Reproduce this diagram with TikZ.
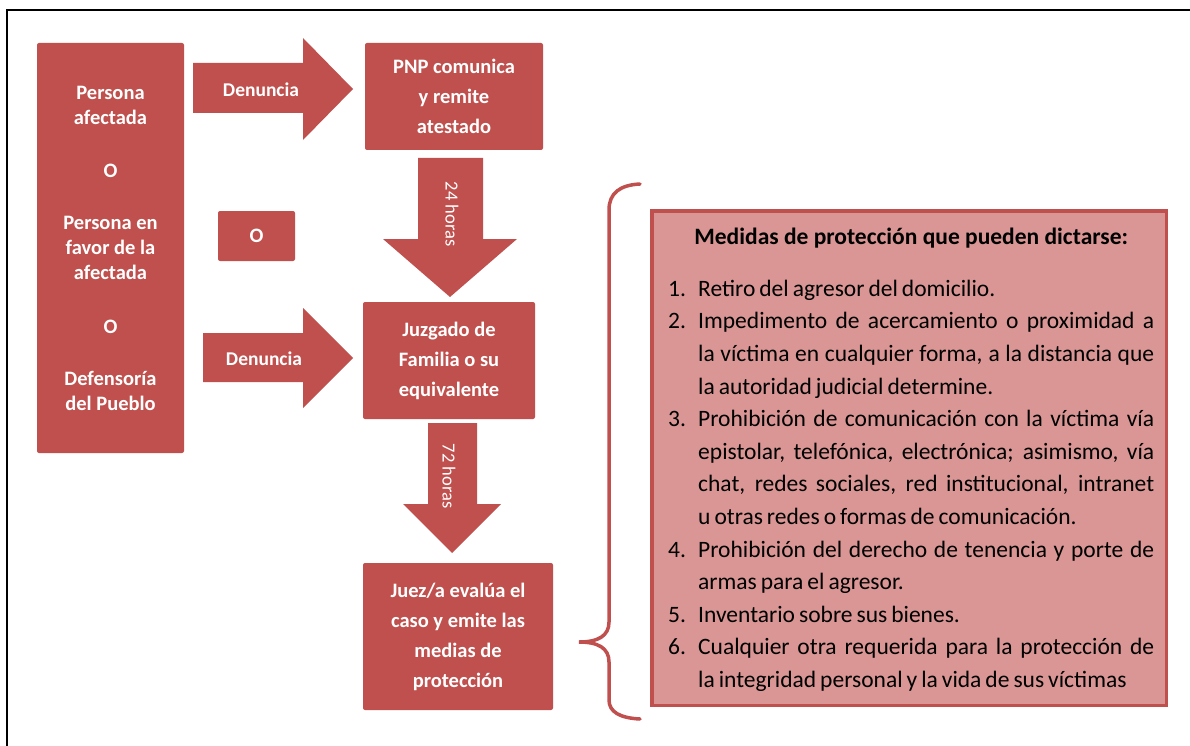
\documentclass[tikz,border=0pt]{standalone}
\usepackage{fontspec}
\setmainfont{Carlito}
\usetikzlibrary{shapes,arrows}
\definecolor{rojo}{HTML}{C0504D}
\definecolor{rosa}{HTML}{D99694}
\tikzstyle{caja} = [rectangle, fill=rojo, text=white, align=center,
    rounded corners=2pt, inner sep=0pt, font=\fontsize{20.5}{30}\selectfont\bfseries]
\tikzstyle{flecha} = [fill=rojo]
\tikzstyle{etiq} = [text=white, font=\fontsize{19.5}{23}\selectfont\bfseries]
\tikzstyle{horas} = [text=white, rotate=-90, font=\fontsize{18.5}{22}\selectfont]
\tikzstyle{llave} = [draw=rojo, line width=3.5pt, line cap=round]

\begin{document}
\begin{tikzpicture}[x=1pt, y=-1pt]
        \useasboundingbox (0,0) rectangle (1190,746);
        % Marco
        \draw[line width=2pt] (7,746) -- (7,10) -- (1190,10);

        % Place nodes
        \path (110.5,248) node (afect) [caja, minimum width=147, minimum height=410,
            font=\fontsize{20.5}{25}\selectfont\bfseries]
            {Persona\\afectada\\[28pt]O\\[27pt]Persona en\\favor de la\\afectada\\[29pt]O\\[27pt]Defensoría\\del Pueblo};
        \path (afect.center)+(343.5,-151.5) node (pnp) [caja, minimum width=178, minimum height=107] {PNP comunica\\y remite\\atestado};
        \path (afect.center)+(146,-12) node (obox) [caja, minimum width=77, minimum height=50] {O};
        \path (pnp.center)+(-5,264) node (juzg) [caja, minimum width=172, minimum height=117] {Juzgado de\\Familia o su\\equivalente};
        \path (juzg.center)+(9,276) node (juez) [caja, minimum width=190, minimum height=147] {Juez/a evalúa el\\caso y emite las\\medias de\\protección};

        %Denuncia
        \fill[flecha] (193,63) -- (303,63) -- (303,38) -- (353,89) -- (303,140) -- (303,113) -- (193,113) -- cycle;
        \path (261,90) node (den1) [etiq] {Denuncia};
        \fill[flecha] (203,333) -- (303,333) -- (303,308) -- (353,358) -- (303,408) -- (303,382) -- (203,382) -- cycle;
        \path (264,359) node (den2) [etiq] {Denuncia};

        %Plazos
        \fill[flecha] (418,158) -- (483,158) -- (483,239) -- (517,239) -- (450,297) -- (383,239) -- (418,239) -- cycle;
        \path (452,214) node (h24) [horas] {24 horas};
        \fill[flecha] (428,423) -- (477,423) -- (477,504) -- (501,504) -- (452,553) -- (403,504) -- (428,504) -- cycle;
        \path (449,476) node (h72) [horas] {72 horas};

        %Medidas
        \path (909,458) node (medidas) [rectangle, draw=rojo, line width=3.5pt, fill=rosa,
            minimum width=514.5, minimum height=494.5] {};
        \path (668,228) node (listado) [anchor=north west, text width=486, inner sep=0pt, align=justify,
            font=\fontsize{23.5}{32.6}\selectfont] {%
            {\centering\bfseries Medidas de protección que pueden dictarse:\par}
            \vspace{19pt}
            \spaceskip=.17em plus .2em minus .06em
            \begin{list}{\arabic{enumi}.\hfill}{\usecounter{enumi}\setlength{\leftmargin}{30pt}%
                \setlength{\labelwidth}{22pt}\setlength{\labelsep}{8pt}\setlength{\itemsep}{0pt}%
                \setlength{\parsep}{0pt}\setlength{\topsep}{0pt}\setlength{\partopsep}{0pt}}
            \item Retiro del agresor del domicilio.
            \item Impedimento de acercamiento o proximidad a\linebreak la víctima en cualquier forma, a la distancia que\linebreak la autoridad judicial determine.
            \item Prohibición de comunicación con la víctima vía\linebreak epistolar, telefónica, electrónica; asimismo, vía\linebreak chat, redes sociales, red institucional, intranet\linebreak u otras redes o formas de comunicación.
            \item Prohibición del derecho de tenencia y porte de\linebreak armas para el agresor.
            \item Inventario sobre sus bienes.
            \item Cualquier otra requerida para la protección de\linebreak la integridad personal y la vida de sus víctimas
            \end{list}};

        %Llave
        \draw[llave] (640,184) .. controls (620,185) and (609,193) .. (609,210) -- (609,622)
            .. controls (609,636) and (598,642) .. (579,642)
            .. controls (598,642) and (609,648) .. (609,662) -- (609,700)
            .. controls (609,712) and (620,718) .. (640,719);
\end{tikzpicture}
\end{document}
